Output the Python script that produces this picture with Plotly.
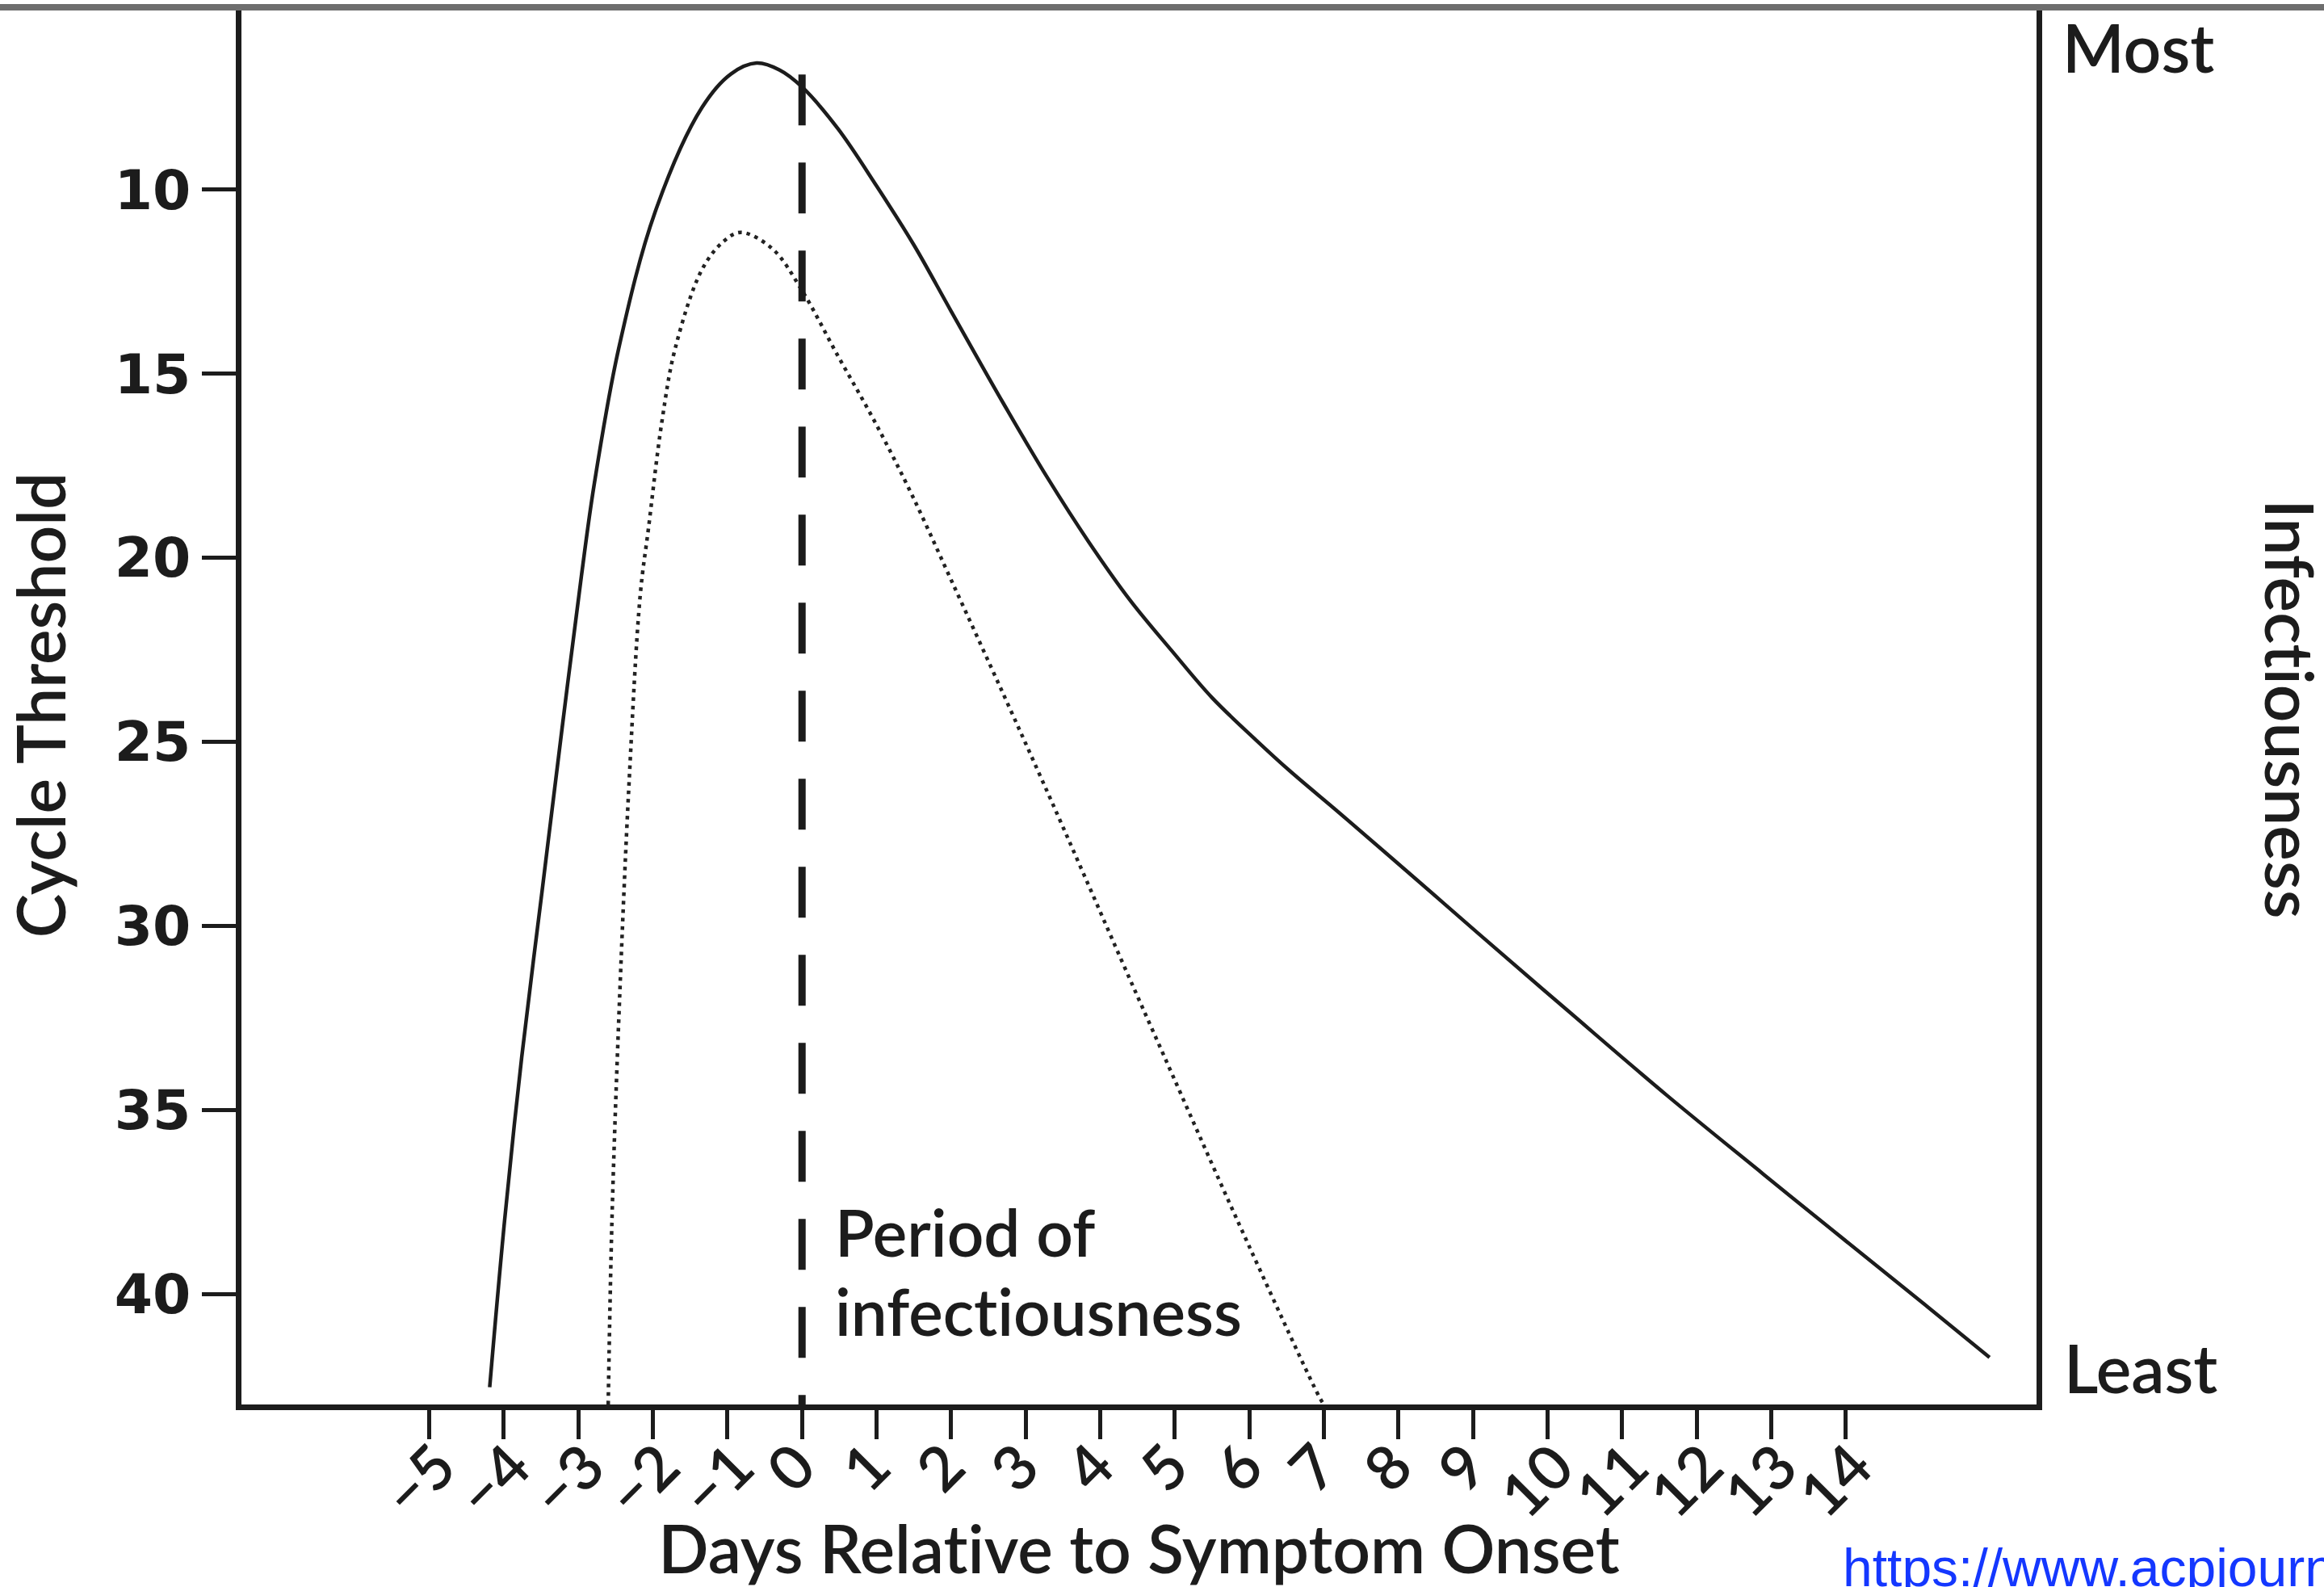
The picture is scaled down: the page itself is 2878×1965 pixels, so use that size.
import plotly.graph_objects as go

# ---- data ----
x_tick_days = list(range(-5, 15))
x_tick_text = ["\u22125", "\u22124", "\u22123", "\u22122", "\u22121", "0", "1", "2", "3", "4",
               "5", "6", "7", "8", "9", "10", "11", "12", "13", "14"]
y_tick_ct = [10, 15, 20, 25, 30, 35, 40]

# Solid curve: cycle threshold (Ct) over days relative to symptom onset
solid_day = [-4.19, -3.99, -3.76, -3.49, -3.22, -2.96, -2.79, -2.46, -1.97, -1.34,
             -0.95, -0.61, -0.30, 0.00, 0.48, 1.00, 1.50, 2.00, 2.70, 3.30,
             3.84, 4.40, 4.97, 5.50, 6.09, 6.55, 7.22, 8.22, 9.07, 10.30,
             11.60, 12.90, 14.15, 15.10, 15.93]
solid_ct = [42.53, 38.00, 33.56, 29.10, 24.65, 20.50, 18.03, 14.32, 10.60, 7.76,
            6.85, 6.56, 6.75, 7.21, 8.34, 9.90, 11.50, 13.30, 15.80, 17.85,
            19.55, 21.15, 22.55, 23.80, 24.95, 25.80, 26.95, 28.70, 30.20, 32.35,
            34.60, 36.75, 38.80, 40.35, 41.72]

# Dotted curve: infectiousness
dotted_day = [-2.60, -2.55, -2.45, -2.32, -2.17, -2.06, -1.88, -1.70, -1.34, -1.05,
              -0.82, -0.40, 0.00, 0.48, 0.97, 1.46, 2.00, 2.70, 3.30, 3.78,
              4.30, 4.86, 5.84, 6.94, 7.00]
dotted_ct = [43.00, 38.00, 32.10, 26.10, 21.00, 19.20, 16.30, 14.30, 12.16, 11.40,
             11.16, 11.60, 12.74, 14.51, 16.28, 18.23, 20.60, 23.70, 26.40, 28.60,
             31.00, 33.55, 38.00, 42.80, 43.00]

# Symptom onset marker (dashed vertical line)
onset_day = [0, 0]
onset_ct = [6.87, 43.0]

INK = "#1c1c1c"
TITLE_FONT = dict(family="Lato", size=82, color=INK, weight=600)
XTICK_FONT = dict(family="Lato", size=76, color=INK, weight=600)

fig = go.Figure()
fig.add_trace(go.Scatter(
    x=solid_day, y=solid_ct, mode="lines", showlegend=False, hoverinfo="skip",
    line=dict(color=INK, width=4.5, shape="spline", smoothing=1.0)))
fig.add_trace(go.Scatter(
    x=dotted_day, y=dotted_ct, mode="lines", showlegend=False, hoverinfo="skip",
    line=dict(color="#222222", width=4.5, dash="4.5px,6px", shape="spline", smoothing=1.0)))
fig.add_trace(go.Scatter(
    x=onset_day, y=onset_ct, mode="lines", showlegend=False, hoverinfo="skip",
    line=dict(color=INK, width=9, dash="63px,46px")))

fig.update_layout(
    width=2878, height=1965,
    margin=dict(l=299, r=356, t=7, b=226, pad=0, autoexpand=False),
    paper_bgcolor="white", plot_bgcolor="white",
    xaxis=dict(
        range=[-7.52, 16.56], tickmode="array", tickvals=x_tick_days,
        ticks="outside", ticklen=36, tickwidth=5, tickcolor=INK,
        showticklabels=False,
        showline=True, linewidth=7, linecolor=INK, showgrid=False, zeroline=False,
        automargin=False,
        title=dict(text="Days Relative to Symptom Onset", font=TITLE_FONT, standoff=117),
    ),
    yaxis=dict(
        range=[43, 5], tickmode="array", tickvals=y_tick_ct,
        ticks="outside", ticklen=42, tickwidth=5, tickcolor=INK,
        showline=True, linewidth=7, linecolor=INK, mirror=True,
        showgrid=False, zeroline=False, automargin=False,
        tickfont=dict(family="DejaVu Sans", size=68, color=INK, weight="bold"),
        title=dict(text="Cycle Threshold", font=TITLE_FONT, standoff=60),
    ),
)

# rotated day labels, centred under each x tick
for d, t in zip(x_tick_days, x_tick_text):
    fig.add_annotation(text=t, x=d, xref="x", y=0, yref="paper", yshift=-26, xshift=-15,
                       xanchor="center", yanchor="top", textangle=-45,
                       showarrow=False, font=XTICK_FONT)

PERIOD_FONT = dict(family="Lato", size=80, color=INK, weight=600)
fig.add_annotation(text="Period of", x=0.42, y=38.3, xref="x", yref="y",
                   xanchor="left", yanchor="middle", align="left", showarrow=False,
                   font=PERIOD_FONT)
fig.add_annotation(text="infectiousness", x=0.42, y=40.45, xref="x", yref="y",
                   xanchor="left", yanchor="middle", align="left", showarrow=False,
                   font=PERIOD_FONT)
fig.add_annotation(text="Most", x=1, xshift=30, y=0.9706, xref="paper", yref="paper",
                   xanchor="left", yanchor="middle", showarrow=False, font=TITLE_FONT)
fig.add_annotation(text="Least", x=1, xshift=32, y=0.0266, xref="paper", yref="paper",
                   xanchor="left", yanchor="middle", showarrow=False, font=TITLE_FONT)
fig.add_annotation(text="Infectiousness", x=1.1415, y=0.497, xref="paper", yref="paper",
                   xanchor="center", yanchor="middle", textangle=90, showarrow=False,
                   font=TITLE_FONT)
fig.add_annotation(text="https://www.acpjournals.org/doi/10.7326/M20-3012",
                   x=0.891, y=0, yshift=-163, xref="paper", yref="paper",
                   xanchor="left", yanchor="top", showarrow=False,
                   font=dict(family="Liberation Sans", size=66, color="#1437ff"))

# thin grey page bar across the top of the screenshot
fig.add_shape(type="rect", xref="paper", yref="paper", x0=-0.2, x1=1.3,
              y0=0.9965, y1=1.0012, fillcolor="#6e6e6e", line=dict(width=0), layer="above")

fig.write_html(
    "out.html",
    config={"displayModeBar": False},
    post_script=(
        "document.body.style.margin='0';document.body.style.overflow='hidden';"
        "var s=document.createElement('style');"
        "s.textContent='text{font-variant-ligatures:none !important;}';"
        "document.head.appendChild(s);"
    ),
)
